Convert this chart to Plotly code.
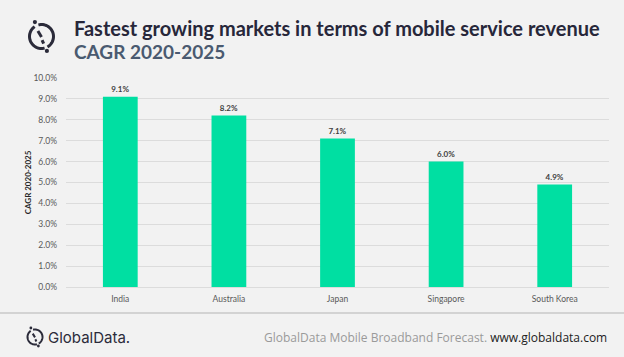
import math
import plotly.graph_objects as go

markets = ["India", "Australia", "Japan", "Singapore", "South Korea"]
cagr = [9.1, 8.2, 7.1, 6.0, 4.9]
tick_vals = [0, 1, 2, 3, 4, 5, 6, 7, 8, 9, 10]
tick_text = [f"{v:.1f}%" for v in tick_vals]

BG = "#f2f2f2"
BAR = "#00dfa2"
DARK = "#2b2b3a"

L, R, T, B = 66, 15, 78, 70
PW = 624 - L - R
PH = 357 - T - B

def px(x):
    return (x - L) / PW

def py(y):
    return (357 - B - y) / PH

fig = go.Figure()
fig.add_trace(go.Bar(
    x=markets, y=cagr,
    marker=dict(color=BAR, line=dict(width=0)),
    text=[f"<b>{v:.1f}%</b>" for v in cagr],
    textposition="outside",
    textfont=dict(size=8, color="#404040", family="Lato"),
    cliponaxis=False,
    width=0.32,
    hoverinfo="skip",
))

fig.update_layout(
    width=624, height=357,
    paper_bgcolor=BG, plot_bgcolor=BG,
    margin=dict(l=L, r=R, t=T, b=B, autoexpand=False),
    showlegend=False,
    font=dict(family="Lato", color="#595959"),
    xaxis=dict(showgrid=False, showline=False, ticks="", automargin=False,
               ticklabelstandoff=5,
               tickfont=dict(size=8.5, color="#595959"), fixedrange=True),
    yaxis=dict(range=[0, 10], tickvals=tick_vals, ticktext=tick_text, automargin=False,
               showgrid=True, gridcolor="#dcdcdc", gridwidth=1,
               zeroline=True, zerolinecolor="#dcdcdc", zerolinewidth=1,
               tickfont=dict(size=8.5, color="#595959"), ticks="",
               ticklabelstandoff=8,
               title=dict(text="<b>CAGR 2020-2025</b>", font=dict(size=8, color="#262626"), standoff=0)),
)

# Titles
fig.add_annotation(x=px(72), y=py(28), xref="paper", yref="paper", xanchor="left", yanchor="middle",
                   text="<b>Fastest growing markets in terms of mobile service revenue</b>",
                   showarrow=False, font=dict(size=20, color="#27273a", family="Lato"))
fig.add_annotation(x=px(72), y=py(51), xref="paper", yref="paper", xanchor="left", yanchor="middle",
                   text="<b>CAGR 2020-2025</b>",
                   showarrow=False, font=dict(size=19, color="#4a5a70", family="Lato"))

# Footer separator
fig.add_shape(type="line", xref="paper", yref="paper", x0=px(0), x1=px(624),
              y0=py(313), y1=py(313), line=dict(color="#c8c8c8", width=1.5))

# Footer text
fig.add_annotation(x=px(609), y=py(337), xref="paper", yref="paper", xanchor="right", yanchor="middle",
                   text="<span style='color:#9a9a9a'>GlobalData Mobile Broadband Forecast.</span> <span style='color:#222222'>www.globaldata.com</span>",
                   showarrow=False, font=dict(size=12, family="Open Sans"))
fig.add_annotation(x=px(46), y=py(337), xref="paper", yref="paper", xanchor="left", yanchor="middle",
                   text="GlobalData.", showarrow=False, font=dict(size=15, color="#2b2b3a", family="Inter"))


def logo(cx, cy, r, w):
    for a0, a1 in [(-60, 105), (125, 285)]:
        seg = []
        for i in range(31):
            a = math.radians(a0 + (a1 - a0) * i / 30)
            seg.append((cx + r * math.cos(a), cy - r * math.sin(a)))
        path = "M " + " L ".join(f"{px(x)},{py(y)}" for x, y in seg)
        fig.add_shape(type="path", path=path, xref="paper", yref="paper",
                      line=dict(color=DARK, width=w))
    fig.add_shape(type="line", xref="paper", yref="paper",
                  x0=px(cx - r * 0.3), y0=py(cy - r * 0.45), x1=px(cx), y1=py(cy + r * 0.05),
                  line=dict(color=DARK, width=w))
    fig.add_shape(type="line", xref="paper", yref="paper",
                  x0=px(cx + r * 0.05), y0=py(cy + r * 0.3), x1=px(cx + r * 0.18), y1=py(cy + r * 0.6),
                  line=dict(color=DARK, width=w))
    d = w * 0.7
    for (dx, dy) in [(-0.55, -1.2), (0.45, 1.2)]:
        x, y = cx + r * dx, cy + r * dy
        fig.add_shape(type="circle", xref="paper", yref="paper",
                      x0=px(x - d), x1=px(x + d), y0=py(y - d), y1=py(y + d),
                      fillcolor=DARK, line=dict(width=0))


logo(41.5, 36.5, 12, 3)
logo(35, 337, 7.5, 2)

fig.write_html("out.html", config={"displayModeBar": False},
               post_script="document.body.style.margin='0';document.body.style.overflow='hidden';")
